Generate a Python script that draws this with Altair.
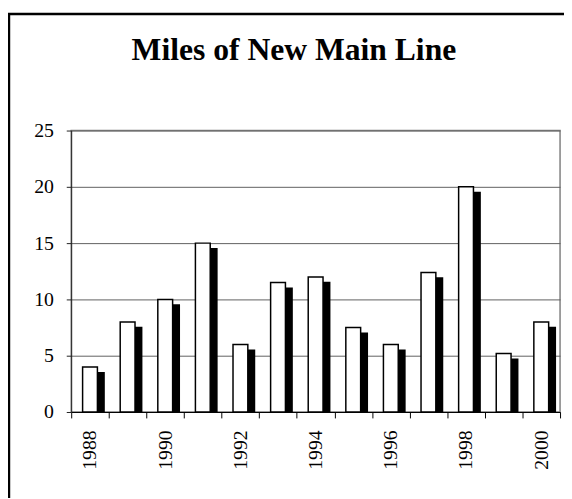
import altair as alt
import pandas as pd

years = [1988, 1989, 1990, 1991, 1992, 1993, 1994, 1995, 1996, 1997, 1998, 1999, 2000]
miles = [4, 8, 10, 15, 6, 11.5, 12, 7.5, 6, 12.4, 20, 5.2, 8]
y_ticks = [0, 5, 10, 15, 20, 25]

df = pd.DataFrame({"year": years, "miles": miles})

FONT = "'Liberation Serif', 'Times New Roman', 'DejaVu Serif', serif"

x_enc = alt.X(
    "year:O",
    scale=alt.Scale(paddingInner=0, paddingOuter=0),
    axis=alt.Axis(
        title=None, labelAngle=-90, labelOverlap=False,
        labelExpr="datum.value % 2 == 0 ? datum.label : ''",
        tickBand="extent", labelFont=FONT, labelFontSize=20, labelColor="black",
        domainColor="black", tickColor="black", tickSize=6, labelPadding=12,
        grid=False,
    ),
)
y_enc = alt.Y(
    "miles:Q",
    stack=None,
    scale=alt.Scale(domain=[0, 25], nice=False),
    axis=alt.Axis(
        title=None, values=y_ticks, labelFont=FONT, labelFontSize=20,
        labelColor="black", domainColor="#222222", tickColor="#222222",
        tickSize=5, labelPadding=13, grid=True, gridColor="#606060",
    ),
)

shadow = alt.Chart(df).mark_bar(
    color="black", size=16, xOffset=7, yOffset=5, y2Offset=0.01
).encode(x=x_enc, y=y_enc, y2=alt.Y2(datum=0))
bars = alt.Chart(df).mark_bar(fill="white", stroke="black", strokeWidth=1.5, size=15).encode(x=x_enc, y=y_enc)

frame = alt.Chart(pd.DataFrame({"a": [0]})).mark_rect(
    fill="transparent", stroke="black", strokeWidth=2.5
).encode(x=alt.value(-63), x2=alt.value(700), y=alt.value(-118), y2=alt.value(700))

chart = alt.layer(shadow, bars, frame).properties(
    width=495,
    height=285,
    title=alt.TitleParams(
        "Miles of New Main Line", font=FONT, fontSize=32, fontWeight="bold",
        color="black", anchor="middle", dx=-22, offset=-80, baseline="alphabetic",
    ),
    autosize=alt.AutoSizeParams(type="none"),
    padding={"left": 64, "top": 121, "right": 4, "bottom": 84},
    background="white",
).configure_view(stroke="#808080", strokeWidth=1.5)

chart.save("out.html", embed_options={"renderer": "svg", "actions": False})
